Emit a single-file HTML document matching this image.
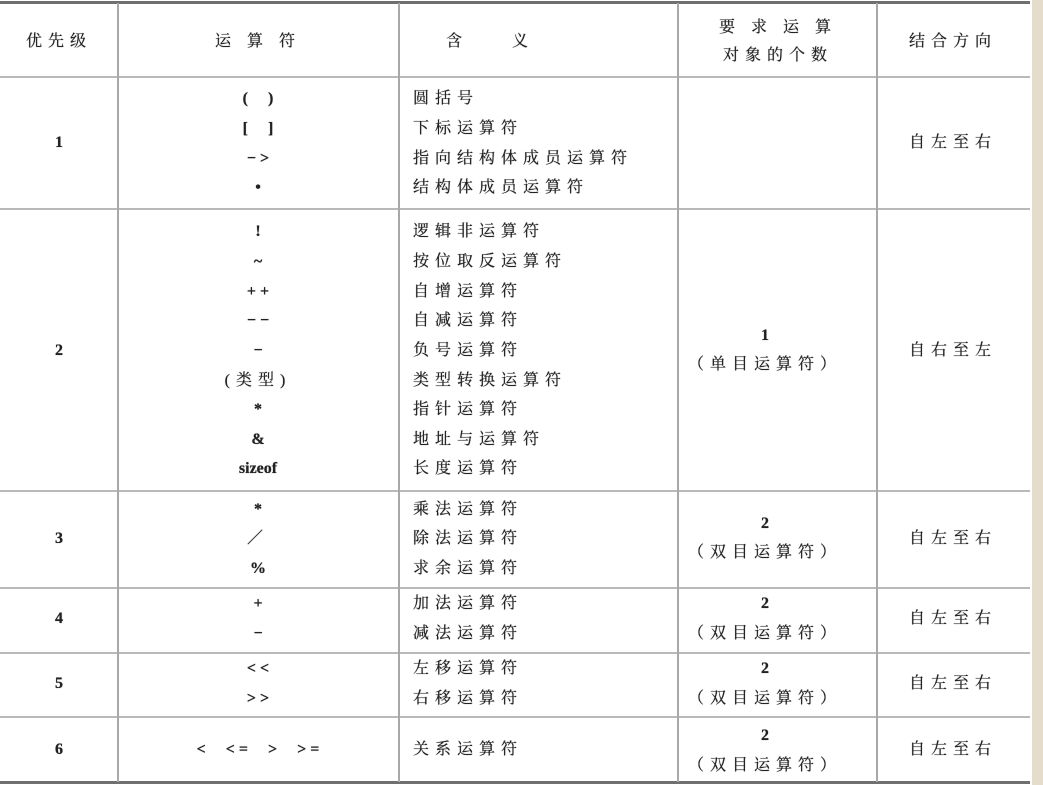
<!DOCTYPE html>
<html><head><meta charset="utf-8">
<style>
html,body{margin:0;padding:0;}
body{width:1043px;height:785px;background:#fff;position:relative;overflow:hidden;font-family:"Liberation Serif","Noto Serif CJK SC",serif;color:#222;}
.h{position:absolute;left:0;width:1030px;background:#b9b9b9;height:2px;}
.v{position:absolute;width:2px;background:#a8a8a8;}
.t{position:absolute;font-size:16px;line-height:20px;white-space:nowrap;letter-spacing:6px;transform:translate(-50%,-50%);text-shadow:0 0 0.6px #222;}
.a{letter-spacing:0;font-weight:bold;}
.l{transform:translate(0,-50%);}
#strip{position:absolute;left:1032px;top:0;width:11px;height:785px;background:#e6dccb;}
</style></head><body>
<div id="strip"></div>
<div class="h" style="top:1px;height:3px;background:#6f6f6f"></div>
<div class="h" style="top:76px"></div>
<div class="h" style="top:208px"></div>
<div class="h" style="top:490px"></div>
<div class="h" style="top:587px"></div>
<div class="h" style="top:652px"></div>
<div class="h" style="top:716px"></div>
<div class="h" style="top:781px;height:3px;background:#6f6f6f"></div>
<div class="v" style="left:117px;top:3px;height:779px"></div>
<div class="v" style="left:398px;top:3px;height:779px"></div>
<div class="v" style="left:677px;top:3px;height:779px"></div>
<div class="v" style="left:876px;top:3px;height:779px"></div>
<div id="cells"></div>
<script>
const cells=[
[59,42,"优先级",0],[258,42,"运 算 符",0],[490,42,"含　　义",0],[778,28,"要 求 运 算",0],[778,56,"对象的个数",0],[953,42,"结合方向",0],
[59,143,"1",2],[258,99,"(　 )",2],[258,129,"[　 ]",2],[258,159,"− &gt;",2],[258,188,"•",2],
[413,99,"圆括号",1],[413,129,"下标运算符",1],[413,159,"指向结构体成员运算符",1],[413,188,"结构体成员运算符",1],[953,143,"自左至右",0],
[59,351,"2",2],[258,232,"!",2],[258,262,"~",2],[258,292,"+ +",2],[258,321,"− −",2],[258,351,"−",2],[258,381,"(类型)",0],[258,410,"*",2],[258,440,"&amp;",2],[258,469,"sizeof",2],
[413,232,"逻辑非运算符",1],[413,262,"按位取反运算符",1],[413,292,"自增运算符",1],[413,321,"自减运算符",1],[413,351,"负号运算符",1],[413,381,"类型转换运算符",1],[413,410,"指针运算符",1],[413,440,"地址与运算符",1],[413,469,"长度运算符",1],
[765,336,"1",2],[765,365,"（单目运算符）",0],[953,351,"自右至左",0],
[59,539,"3",2],[258,510,"*",2],[258,539,"／",0],[258,569,"%",2],[413,510,"乘法运算符",1],[413,539,"除法运算符",1],[413,569,"求余运算符",1],[765,524,"2",2],[765,553,"（双目运算符）",0],[953,539,"自左至右",0],
[59,619,"4",2],[258,604,"+",2],[258,634,"−",2],[413,604,"加法运算符",1],[413,634,"减法运算符",1],[765,604,"2",2],[765,634,"（双目运算符）",0],[953,619,"自左至右",0],
[59,684,"5",2],[258,669,"&lt; &lt;",2],[258,699,"&gt; &gt;",2],[413,669,"左移运算符",1],[413,699,"右移运算符",1],[765,669,"2",2],[765,699,"（双目运算符）",0],[953,684,"自左至右",0],
[59,750,"6",2],[258,750,"&lt;　 &lt; =　 &gt;　 &gt; =",2],[413,750,"关系运算符",1],[765,736,"2",2],[765,766,"（双目运算符）",0],[953,750,"自左至右",0]
];
const box=document.getElementById('cells');
cells.forEach(c=>{
 const d=document.createElement('div');
 d.className='t'+(c[3]===1?' l':'')+(c[3]===2?' a':'');
 d.style.left=c[0]+'px';d.style.top=c[1]+'px';
 d.innerHTML=c[2];
 
 
 box.appendChild(d);
});
</script>
</body></html>
